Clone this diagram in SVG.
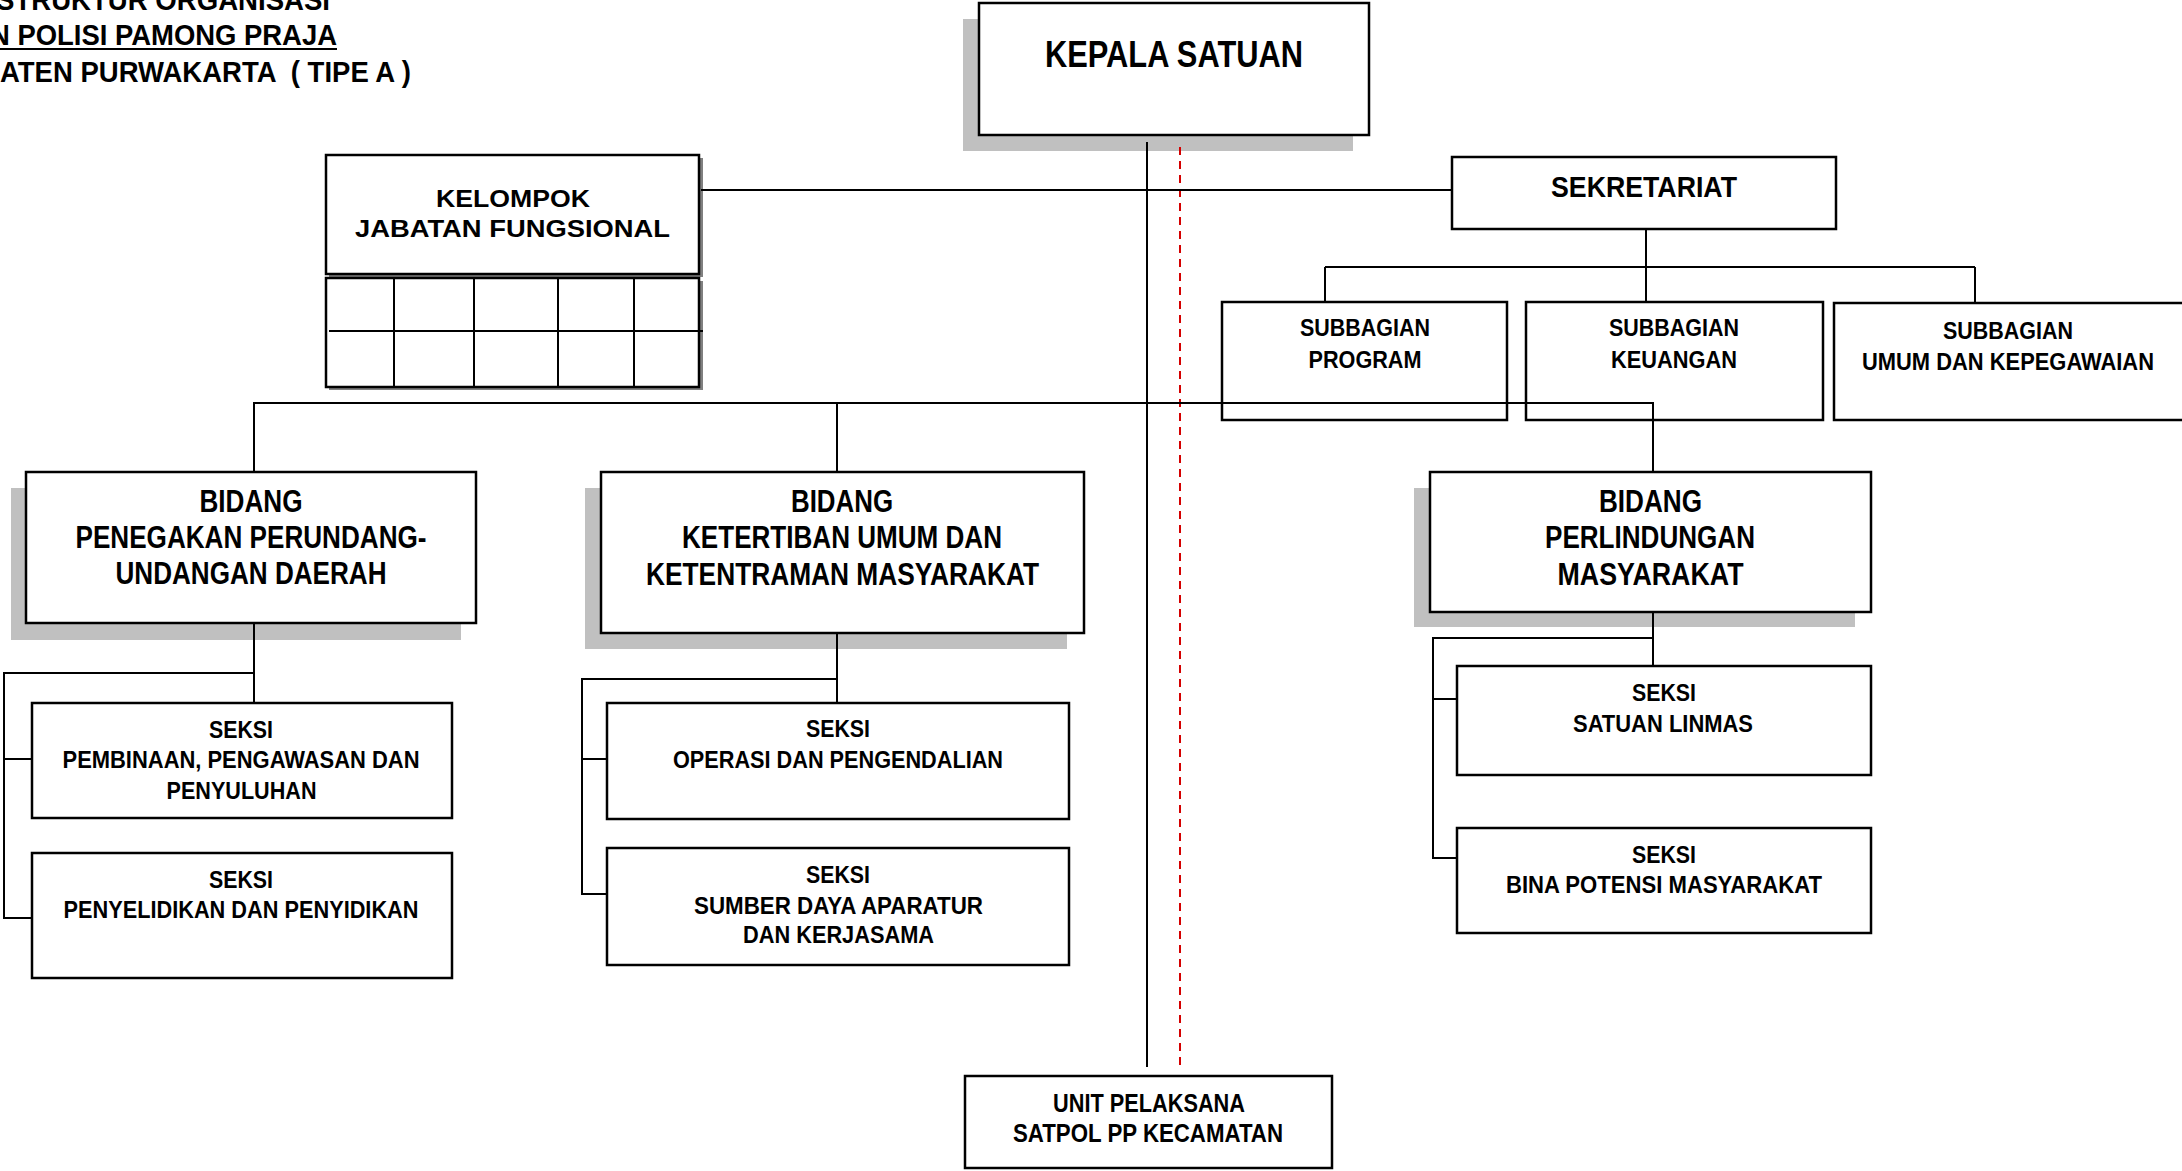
<svg xmlns="http://www.w3.org/2000/svg" width="2182" height="1171" viewBox="0 0 2182 1171">
<style>
text{font-family:"Liberation Sans",Arial,sans-serif;font-weight:bold;fill:#000;text-anchor:middle}
.box{fill:#fff;stroke:#000;stroke-width:2.5}
.sh{fill:#c0c0c0}
.sh2{fill:#808080}
.ln{stroke:#000;stroke-width:2;fill:none}
.red{stroke:#d40000;stroke-width:2;stroke-dasharray:8 6;fill:none}
.t37{font-size:37px}.t32{font-size:32px}.t29{font-size:29px}.t26{font-size:26px}.t24{font-size:24px}
.title{font-size:29px;text-anchor:start}
</style>
<rect width="2182" height="1171" fill="#fff"/>

<g id="title">
<text class="title" x="-4" y="10" textLength="334" lengthAdjust="spacingAndGlyphs">STRUKTUR ORGANISASI</text>
<text class="title" x="-10" y="45" textLength="347" lengthAdjust="spacingAndGlyphs">N POLISI PAMONG PRAJA</text>
<line x1="0" y1="49" x2="337" y2="49" stroke="#000" stroke-width="2"/>
<text class="title" x="0" y="82" textLength="411" lengthAdjust="spacingAndGlyphs" xml:space="preserve">ATEN PURWAKARTA  ( TIPE A )</text>
</g>

<g id="shadows">
<rect class="sh" x="963" y="19" width="390" height="132"/>
<rect class="sh" x="11" y="488" width="450" height="152"/>
<rect class="sh" x="585" y="488" width="482" height="161"/>
<rect class="sh" x="1414" y="488" width="441" height="139"/>
<rect class="sh2" x="329" y="158" width="374" height="119"/>
<rect class="sh2" x="329" y="281" width="374" height="109"/>
</g>

<g id="kepala">
<rect class="box" x="979" y="3" width="390" height="132"/>
<text class="t37" x="1174" y="67" textLength="258" lengthAdjust="spacingAndGlyphs">KEPALA SATUAN</text>
</g>

<g id="kelompok">
<rect class="box" x="326" y="155" width="373" height="119"/>
<text class="t24" x="513" y="207" textLength="154" lengthAdjust="spacingAndGlyphs">KELOMPOK</text>
<text class="t24" x="512.5" y="237" textLength="315" lengthAdjust="spacingAndGlyphs">JABATAN FUNGSIONAL</text>
</g>

<g id="kelompok-grid">
<rect class="box" x="326" y="278" width="373" height="109"/>
<line class="ln" x1="329" y1="331" x2="703" y2="331"/>
<line class="ln" x1="394" y1="278" x2="394" y2="387"/>
<line class="ln" x1="474" y1="278" x2="474" y2="387"/>
<line class="ln" x1="558" y1="278" x2="558" y2="387"/>
<line class="ln" x1="634" y1="278" x2="634" y2="387"/>
</g>

<g id="sekretariat">
<rect class="box" x="1452" y="157" width="384" height="72"/>
<text class="t29" x="1644" y="197" textLength="186" lengthAdjust="spacingAndGlyphs">SEKRETARIAT</text>
</g>

<g id="subbagian-program">
<rect class="box" x="1222" y="302" width="285" height="118"/>
<text class="t24" x="1365" y="336" textLength="130" lengthAdjust="spacingAndGlyphs">SUBBAGIAN</text>
<text class="t24" x="1365" y="368" textLength="113" lengthAdjust="spacingAndGlyphs">PROGRAM</text>
</g>

<g id="subbagian-keuangan">
<rect class="box" x="1526" y="302" width="297" height="118"/>
<text class="t24" x="1674" y="336" textLength="130" lengthAdjust="spacingAndGlyphs">SUBBAGIAN</text>
<text class="t24" x="1674" y="368" textLength="126" lengthAdjust="spacingAndGlyphs">KEUANGAN</text>
</g>

<g id="subbagian-umum">
<rect class="box" x="1834" y="303" width="360" height="117" stroke-width="3"/>
<text class="t24" x="2008" y="339" textLength="130" lengthAdjust="spacingAndGlyphs">SUBBAGIAN</text>
<text class="t24" x="2008" y="370" textLength="292" lengthAdjust="spacingAndGlyphs">UMUM DAN KEPEGAWAIAN</text>
</g>

<g id="bidang-penegakan">
<rect class="box" x="26" y="472" width="450" height="151"/>
<text class="t32" x="251" y="512" textLength="103" lengthAdjust="spacingAndGlyphs">BIDANG</text>
<text class="t32" x="251" y="548" textLength="351" lengthAdjust="spacingAndGlyphs">PENEGAKAN PERUNDANG-</text>
<text class="t32" x="251" y="584" textLength="271" lengthAdjust="spacingAndGlyphs">UNDANGAN DAERAH</text>
</g>

<g id="bidang-ketertiban">
<rect class="box" x="601" y="472" width="483" height="161"/>
<text class="t32" x="842" y="512" textLength="102" lengthAdjust="spacingAndGlyphs">BIDANG</text>
<text class="t32" x="842" y="548" textLength="320" lengthAdjust="spacingAndGlyphs">KETERTIBAN UMUM DAN</text>
<text class="t32" x="842.5" y="585" textLength="393" lengthAdjust="spacingAndGlyphs">KETENTRAMAN MASYARAKAT</text>
</g>

<g id="bidang-perlindungan">
<rect class="box" x="1430" y="472" width="441" height="140"/>
<text class="t32" x="1650.5" y="512" textLength="103" lengthAdjust="spacingAndGlyphs">BIDANG</text>
<text class="t32" x="1650" y="548" textLength="210" lengthAdjust="spacingAndGlyphs">PERLINDUNGAN</text>
<text class="t32" x="1650.5" y="585" textLength="186" lengthAdjust="spacingAndGlyphs">MASYARAKAT</text>
</g>

<g id="seksi-pembinaan">
<rect class="box" x="32" y="703" width="420" height="115"/>
<text class="t24" x="241" y="738" textLength="64" lengthAdjust="spacingAndGlyphs">SEKSI</text>
<text class="t24" x="241" y="768" textLength="357" lengthAdjust="spacingAndGlyphs">PEMBINAAN, PENGAWASAN DAN</text>
<text class="t24" x="241.5" y="799" textLength="150" lengthAdjust="spacingAndGlyphs">PENYULUHAN</text>
</g>

<g id="seksi-penyelidikan">
<rect class="box" x="32" y="853" width="420" height="125"/>
<text class="t24" x="241" y="888" textLength="64" lengthAdjust="spacingAndGlyphs">SEKSI</text>
<text class="t24" x="241" y="918" textLength="355" lengthAdjust="spacingAndGlyphs">PENYELIDIKAN DAN PENYIDIKAN</text>
</g>

<g id="seksi-operasi">
<rect class="box" x="607" y="703" width="462" height="116"/>
<text class="t24" x="838" y="737" textLength="64" lengthAdjust="spacingAndGlyphs">SEKSI</text>
<text class="t24" x="838" y="768" textLength="330" lengthAdjust="spacingAndGlyphs">OPERASI DAN PENGENDALIAN</text>
</g>

<g id="seksi-sumber-daya">
<rect class="box" x="607" y="848" width="462" height="117"/>
<text class="t24" x="838" y="883" textLength="64" lengthAdjust="spacingAndGlyphs">SEKSI</text>
<text class="t24" x="838.5" y="914" textLength="289" lengthAdjust="spacingAndGlyphs">SUMBER DAYA APARATUR</text>
<text class="t24" x="838.5" y="943" textLength="191" lengthAdjust="spacingAndGlyphs">DAN KERJASAMA</text>
</g>

<g id="seksi-linmas">
<rect class="box" x="1457" y="666" width="414" height="109"/>
<text class="t24" x="1664" y="701" textLength="64" lengthAdjust="spacingAndGlyphs">SEKSI</text>
<text class="t24" x="1663" y="732" textLength="180" lengthAdjust="spacingAndGlyphs">SATUAN LINMAS</text>
</g>

<g id="seksi-bina-potensi">
<rect class="box" x="1457" y="828" width="414" height="105"/>
<text class="t24" x="1664" y="863" textLength="64" lengthAdjust="spacingAndGlyphs">SEKSI</text>
<text class="t24" x="1664" y="893" textLength="316" lengthAdjust="spacingAndGlyphs">BINA POTENSI MASYARAKAT</text>
</g>

<g id="unit-pelaksana">
<rect class="box" x="965" y="1076" width="367" height="92"/>
<text class="t26" x="1149" y="1112" textLength="192" lengthAdjust="spacingAndGlyphs">UNIT PELAKSANA</text>
<text class="t26" x="1148" y="1142" textLength="270" lengthAdjust="spacingAndGlyphs">SATPOL PP KECAMATAN</text>
</g>

<g id="connectors">
<line class="ln" x1="1147" y1="142" x2="1147" y2="1067"/>
<line class="red" x1="1180" y1="147" x2="1180" y2="1066"/>
<line class="ln" x1="701" y1="190" x2="1452" y2="190"/>
<polyline class="ln" points="1646,229 1646,267"/>
<line class="ln" x1="1325" y1="267" x2="1975" y2="267"/>
<line class="ln" x1="1325" y1="267" x2="1325" y2="301"/>
<line class="ln" x1="1646" y1="267" x2="1646" y2="301"/>
<line class="ln" x1="1975" y1="267" x2="1975" y2="302"/>
<polyline class="ln" points="254,472 254,403 1653,403 1653,472"/>
<line class="ln" x1="837" y1="403" x2="837" y2="472"/>
<line class="ln" x1="254" y1="623" x2="254" y2="703"/>
<polyline class="ln" points="253,673 4,673 4,918 32,918"/>
<line class="ln" x1="4" y1="759" x2="32" y2="759"/>
<line class="ln" x1="837" y1="633" x2="837" y2="703"/>
<polyline class="ln" points="837,679 582,679 582,894 607,894"/>
<line class="ln" x1="582" y1="759" x2="607" y2="759"/>
<line class="ln" x1="1653" y1="612" x2="1653" y2="666"/>
<polyline class="ln" points="1653,638 1433,638 1433,858 1457,858"/>
<line class="ln" x1="1433" y1="699" x2="1457" y2="699"/>
</g>
</svg>
